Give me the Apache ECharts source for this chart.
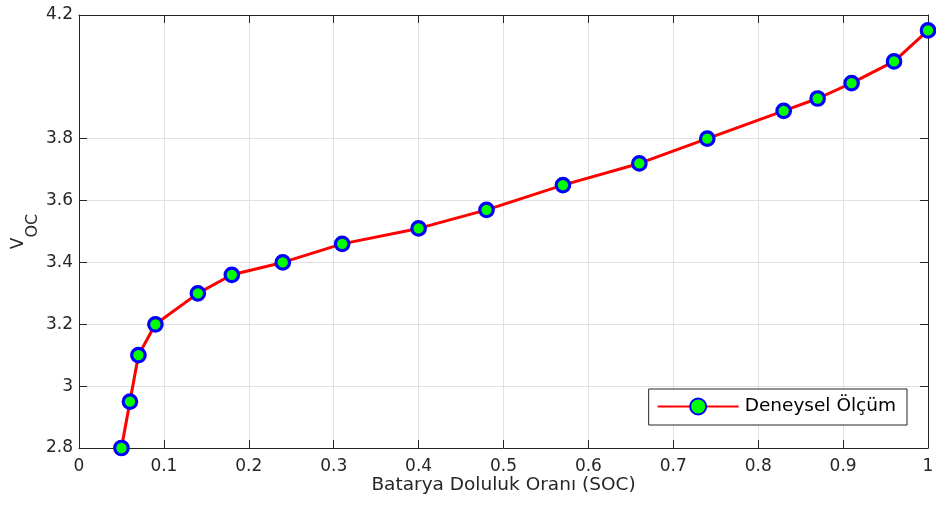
<!DOCTYPE html>
<html>
<head>
<meta charset="utf-8">
<script src="https://cdn.jsdelivr.net/npm/echarts@6/dist/echarts.min.js"></script>
<style>
  html, body { margin: 0; padding: 0; background: #fff; }
  #chart { width: 936px; height: 509px; }
</style>
</head>
<body>
<div id="chart"></div>
<script>
// State of charge (SOC) and measured open-circuit voltage
const soc = [0.05, 0.06, 0.07, 0.09, 0.14, 0.18, 0.24, 0.31, 0.40, 0.48, 0.57, 0.66, 0.74, 0.83, 0.87, 0.91, 0.96, 1.00];
const voc = [2.80, 2.95, 3.10, 3.20, 3.30, 3.36, 3.40, 3.46, 3.51, 3.57, 3.65, 3.72, 3.80, 3.89, 3.93, 3.98, 4.05, 4.15];
const xTicks = [0, 0.1, 0.2, 0.3, 0.4, 0.5, 0.6, 0.7, 0.8, 0.9, 1];
const yTicks = [2.8, 3, 3.2, 3.4, 3.6, 3.8, 4.2];
const seriesName = 'Deneysel Ölçüm';

const FONT = '"DejaVu Sans", Arial, Helvetica, sans-serif';
const AXIS_COLOR = '#262626';
const GRID_COLOR = '#e1e1e1';

const chart = echarts.init(document.getElementById('chart'), null, { renderer: 'canvas' });

const fmtNum = v => String(Math.round(v * 10) / 10);

function valueAxisBase(min, max, ticks) {
  return {
    type: 'value',
    min: min,
    max: max,
    axisLine: { show: true, onZero: false, lineStyle: { color: AXIS_COLOR, width: 1 } },
    axisTick: { show: true, inside: true, length: 8, customValues: ticks, lineStyle: { color: AXIS_COLOR, width: 1 } },
    axisLabel: { show: true, customValues: ticks, color: AXIS_COLOR, fontFamily: FONT, fontSize: 17, formatter: fmtNum },
    splitLine: { show: true, lineStyle: { color: GRID_COLOR, width: 1 } }
  };
}

const xMain = Object.assign(valueAxisBase(0, 1, xTicks), {
  position: 'bottom',
  name: 'Batarya Doluluk Oranı (SOC)',
  nameLocation: 'middle',
  nameGap: 28,
  nameMoveOverlap: false,
  nameTextStyle: { color: AXIS_COLOR, fontFamily: FONT, fontSize: 18.5 }
});
xMain.axisLabel.margin = 10;

const xTop = Object.assign(valueAxisBase(0, 1, xTicks), { position: 'top' });
xTop.axisLabel = { show: false };
xTop.splitLine = { show: false };

// V with a lowered "OC" subscript
const yMain = Object.assign(valueAxisBase(2.8, 4.2, yTicks), {
  position: 'left',
  name: '{v|V}{s|OC}',
  nameLocation: 'middle',
  nameGap: 38,
  nameRotate: 90,
  nameMoveOverlap: false,
  nameTextStyle: {
    color: AXIS_COLOR,
    fontFamily: FONT,
    rich: {
      v: { fontSize: 17, verticalAlign: 'top', fontFamily: FONT, color: AXIS_COLOR },
      s: { fontSize: 16, verticalAlign: 'bottom', fontFamily: FONT, color: AXIS_COLOR, padding: [15, 0, 0, 0] }
    }
  }
});
yMain.axisLabel.margin = 6;
yMain.axisLabel.padding = [4, 0, 0, 0];

const yRight = Object.assign(valueAxisBase(2.8, 4.2, yTicks), { position: 'right' });
yRight.axisLabel = { show: false };
yRight.splitLine = { show: false };

chart.setOption({
  animation: false,
  backgroundColor: '#ffffff',
  grid: { left: 79, right: 8, top: 15, bottom: 61, containLabel: false, outerBoundsMode: 'none' },
  xAxis: [xMain, xTop],
  yAxis: [yMain, yRight],
  legend: {
    data: [seriesName],
    right: 29,
    top: 389,
    padding: [8, 11, 9, 8],
    backgroundColor: '#ffffff',
    borderColor: AXIS_COLOR,
    borderWidth: 1,
    borderRadius: 0,
    itemWidth: 81,
    itemHeight: 20,
    itemGap: 6,
    textStyle: { color: '#000', fontFamily: FONT, fontSize: 18.5, padding: [0, 0, 0, 1] }
  },
  series: [{
    name: seriesName,
    type: 'line',
    xAxisIndex: 0,
    yAxisIndex: 0,
    data: soc.map((s, i) => [s, voc[i]]),
    clip: false,
    symbol: 'circle',
    symbolSize: 13.5,
    lineStyle: { color: '#ff0000', width: 3 },
    itemStyle: { color: '#00ff00', borderColor: '#0000ff', borderWidth: 3.2 },
    z: 5
  }]
});
</script>
</body>
</html>
